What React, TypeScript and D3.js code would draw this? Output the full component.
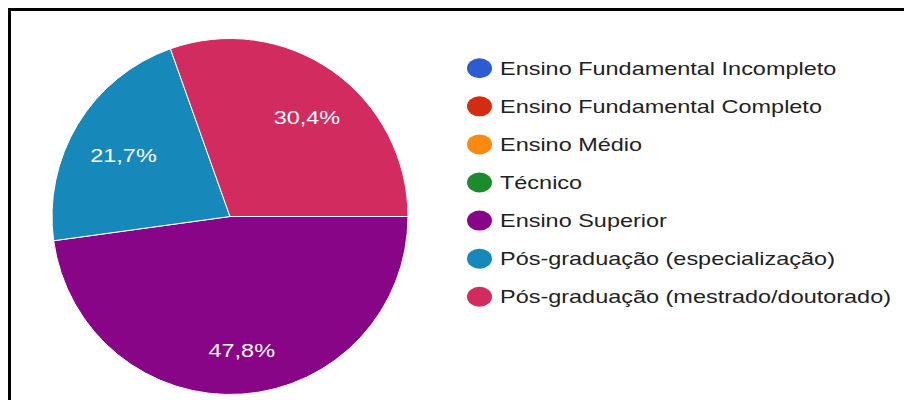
import React from 'react';
import * as d3 from 'd3';

// Escolaridade – respostas do formulário
const categories = [
  'Ensino Fundamental Incompleto',
  'Ensino Fundamental Completo',
  'Ensino Médio',
  'Técnico',
  'Ensino Superior',
  'Pós-graduação (especialização)',
  'Pós-graduação (mestrado/doutorado)'
];
const counts = [0, 0, 0, 0, 11, 5, 7];
const colors = ['#2d5bd1', '#d32c10', '#fd8a10', '#1b8b2b', '#870586', '#1689ba', '#d22b60'];

const WIDTH = 904;
const HEIGHT = 400;
const FONT = '"Liberation Sans", Arial, sans-serif';
const STRETCH = 1.34; // the screenshot is squeezed wider than tall for text

export default function App() {
  const cx = 230;
  const cy = 216.5;
  const radius = 178;

  const data = categories.map((name, i) => ({ name, value: counts[i], color: colors[i] }));
  const total = d3.sum(counts);

  const pie = d3.pie<any>()
    .value(d => d.value)
    .sort(null)
    .startAngle(Math.PI / 2)
    .endAngle(Math.PI / 2 + 2 * Math.PI);

  const arc = d3.arc<any>().innerRadius(0).outerRadius(radius);
  const labelArc = d3.arc<any>().innerRadius(radius * 0.72).outerRadius(radius * 0.72);

  const slices = pie(data).filter(d => d.data.value > 0);
  const fmt = (v: number) => ((v / total) * 100).toFixed(1).replace('.', ',') + '%';

  // legend rows
  const legendY = d3.scaleLinear().domain([0, categories.length - 1]).range([68.3, 296.7]);

  return (
    <svg
      width={WIDTH}
      height={HEIGHT}
      style={{ position: 'absolute', left: 0, top: 0, background: '#fff' }}
    >
      <rect width={WIDTH} height={HEIGHT} fill="#fff" />
      {/* frame of the screenshot */}
      <path d="M9.5,1000 V9.5 H1000" fill="none" stroke="#000" strokeWidth={3} />

      <g transform={`translate(${cx},${cy})`}>
        {slices.map((d, i) => (
          <path key={i} d={arc(d) as string} fill={d.data.color} stroke="#fff" strokeWidth={1} />
        ))}
        {slices.map((d, i) => {
          const [x, y] = labelArc.centroid(d);
          return (
            <text
              key={'l' + i}
              transform={`translate(${x + 3},${y + 6}) scale(${STRETCH},1)`}
              textAnchor="middle"
              dy="0.36em"
              fontFamily={FONT}
              fontSize={17.5}
              fill="#fff"
            >
              {fmt(d.data.value)}
            </text>
          );
        })}
      </g>

      <g>
        {data.map((d, i) => (
          <g key={d.name} transform={`translate(0,${legendY(i)})`}>
            <ellipse cx={479.5} cy={0} rx={12.5} ry={10} fill={d.color} />
            <text
              transform={`translate(500,0) scale(${STRETCH},1)`}
              dy="0.36em"
              fontFamily={FONT}
              fontSize={17.5}
              fill="#222"
            >
              {d.name}
            </text>
          </g>
        ))}
      </g>
    </svg>
  );
}
